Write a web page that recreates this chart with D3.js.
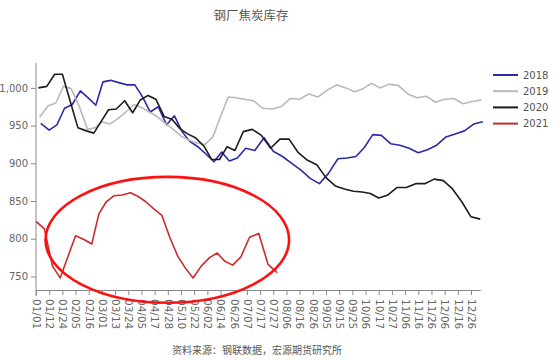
<!DOCTYPE html>
<html>
<head>
<meta charset="utf-8">
<script src="https://cdn.jsdelivr.net/npm/d3@7/dist/d3.min.js"></script>
<style>
  html, body { margin: 0; padding: 0; background: #fff; }
  svg { display: block; }
</style>
</head>
<body>
<svg id="chart" width="554" height="360"></svg>
<script>
// ---------- data ----------
const tickLabels = ["01/01","01/12","01/24","02/05","02/16","03/01","03/13","03/24","04/05","04/17","04/28","05/10","05/22","06/02","06/14","06/26","07/07","07/17","07/27","08/06","08/16","08/26","09/05","09/15","09/25","10/06","10/17","10/27","11/06","11/16","11/26","12/06","12/16","12/26"];
const yTicks = [750, 800, 850, 900, 950, 1000];
const seriesNames = ["2018", "2019", "2020", "2021"];
// first weekly (Friday) observation of each year, as "MM/DD"
const firstDates = ["01/05", "01/04", "01/03", "01/01"];

const s2018 = [953,944,951,973,978,996,986,977,1008,1010,1007,1004,1004,988,968,975,951,963,942,929,922,912,902,915,903,907,920,917,934,916,909,900,891,880,873,887,906,907,909,921,938,937,926,924,920,914,918,924,935,939,943,952,955];
const s2019 = [961,976,980,1002,999,976,945,947,955,952,959,968,978,974,968,962,953,945,936,931,927,925,935,962,988,987,985,983,973,972,975,986,985,992,988,997,1004,1000,995,999,1006,1000,1005,1003,992,987,989,981,985,986,979,982,984];
const s2020 = [1000,1002,1018,1018,983,947,943,940,955,971,972,983,967,984,990,985,962,958,946,939,934,923,905,905,922,917,942,945,937,920,932,932,914,904,898,881,870,866,863,862,860,854,858,868,868,873,873,879,877,866,849,829,826];
const s2021 = [823,813,764,748,776,804,799,793,833,849,857,858,861,856,849,840,831,801,777,761,748,764,775,781,770,765,776,802,807,766,755];

// highlighted region (annotation ellipse), in data terms
const highlight = { from: "01/09", to: "08/08", top: 882, bottom: 715 };

const title = "钢厂焦炭库存";
const source = "资料来源：钢联数据，宏源期货研究所";

// ---------- helpers ----------
const dayOf = s => {
  const [m, d] = s.split("/").map(Number);
  return d3.timeDay.count(new Date(2021, 0, 1), new Date(2021, m - 1, d));
};

const svg = d3.select("#chart");
const W = 554, H = 360;
const plot = { left: 36, right: 480, top: 63, bottom: 290 };
const lastTickX = 471;

const labelDays = tickLabels.map(dayOf);
const endDay = 366;
const slot = d3.scaleLinear().domain([0, tickLabels.length - 1]).range([plot.left, lastTickX]);
const slotStep = slot(1) - slot(0);
const xDomain = labelDays.concat([endDay]);
const xRange = labelDays.map((d, i) => slot(i)).concat([
  lastTickX + (endDay - labelDays[labelDays.length - 1]) / (labelDays[labelDays.length - 1] - labelDays[labelDays.length - 2]) * slotStep
]);
const x = d3.scaleLinear().domain(xDomain).range(xRange);

const y = d3.scaleLinear().domain([732, 1033]).range([plot.bottom, plot.top]);

const colors = { "2018": "#2b2ba6", "2019": "#b9b9b9", "2020": "#1c1c1c", "2021": "#cc2b2b" };
const seriesValues = [s2018, s2019, s2020, s2021];

const font = "'DejaVu Sans', Verdana, sans-serif";
const cjk = "'Noto Sans CJK SC', 'Noto Sans', sans-serif";

// ---------- title ----------
svg.append("text")
  .attr("x", 251).attr("y", 20)
  .attr("text-anchor", "middle")
  .style("font-family", cjk).style("font-size", "12.5px").style("fill", "#555")
  .text(title);

// ---------- axes ----------
const yAxis = d3.axisLeft(y).tickValues(yTicks).tickSize(5).tickSizeOuter(0).tickPadding(3);
const gy = svg.append("g").attr("transform", `translate(${plot.left},0)`).call(yAxis);
gy.select(".domain").remove();
gy.append("line").attr("x1", 0).attr("x2", 0).attr("y1", plot.top).attr("y2", plot.bottom + 6).attr("stroke", "#8a8a8a");
gy.selectAll(".tick line").attr("stroke", "#8a8a8a");
gy.selectAll(".tick text").style("font-family", font).style("font-size", "10px").style("fill", "#666");

const xAxis = d3.axisBottom(x).tickValues(labelDays).tickFormat((d, i) => tickLabels[i]).tickSize(5).tickSizeOuter(0);
const gx = svg.append("g").attr("transform", `translate(0,${plot.bottom})`).call(xAxis);
gx.select(".domain").attr("stroke", "#8a8a8a");
gx.selectAll(".tick line").attr("stroke", "#8a8a8a");
gx.selectAll(".tick text")
  .attr("transform", "rotate(90)")
  .attr("x", 9).attr("y", 0).attr("dy", "0.35em")
  .style("text-anchor", "start")
  .style("font-family", font).style("font-size", "10.5px").style("fill", "#666");

// ---------- lines ----------
const line = d3.line().x(d => x(d.day)).y(d => y(d.v));
seriesNames.forEach((name, si) => {
  const start = dayOf(firstDates[si]);
  const pts = seriesValues[si].map((v, k) => ({ day: start + 7 * k, v }));
  svg.append("path")
    .datum(pts)
    .attr("d", line)
    .attr("fill", "none")
    .attr("stroke", colors[name])
    .attr("stroke-width", 1.6)
    .attr("stroke-linejoin", "round");
});

// ---------- annotation ellipse ----------
const ex0 = x(dayOf(highlight.from)), ex1 = x(dayOf(highlight.to));
const ey0 = y(highlight.top), ey1 = y(highlight.bottom);
svg.append("ellipse")
  .attr("cx", (ex0 + ex1) / 2).attr("cy", (ey0 + ey1) / 2)
  .attr("rx", (ex1 - ex0) / 2).attr("ry", (ey1 - ey0) / 2)
  .attr("fill", "none").attr("stroke", "#ff1010").attr("stroke-width", 2.6);

// ---------- legend ----------
const legend = svg.append("g");
seriesNames.forEach((name, i) => {
  const ly = 75 + i * 16.2;
  legend.append("line").attr("x1", 493).attr("x2", 518).attr("y1", ly).attr("y2", ly)
    .attr("stroke", colors[name]).attr("stroke-width", 2);
  legend.append("text").attr("x", 523).attr("y", ly).attr("dy", "0.35em")
    .style("font-family", font).style("font-size", "10px").style("fill", "#555")
    .text(name);
});

// ---------- source ----------
svg.append("text")
  .attr("x", 172).attr("y", 354)
  .style("font-family", cjk).style("font-size", "10px").style("fill", "#555")
  .text(source);
</script>
</body>
</html>
